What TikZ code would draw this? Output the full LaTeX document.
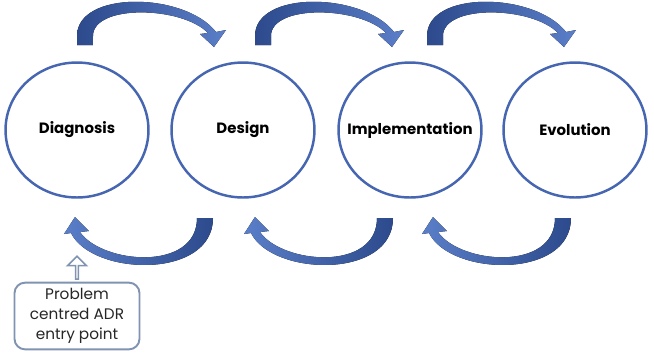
\documentclass[tikz,border=0pt]{standalone}
\usepackage{fontspec}
\setmainfont{Poppins}
\usetikzlibrary{shapes.geometric,shapes.arrows,arrows.meta,positioning}

\definecolor{ringblue}{RGB}{70,102,178}
\definecolor{arrowdark}{RGB}{44,74,140}
\definecolor{arrowlight}{RGB}{90,126,200}
\definecolor{boxgrey}{RGB}{128,148,178}
\definecolor{textgrey}{RGB}{38,38,38}

\tikzset{
  phase/.style={ellipse, draw=ringblue, line width=1.4pt, fill=white,
    minimum width=2.86cm, minimum height=2.7cm, inner sep=0pt,
    label={[font=\bfseries\fontsize{8.5}{10}\selectfont]center:#1}},
  fwdarrow/.style={left color=arrowdark, right color=arrowlight, draw=none},
  backarrow/.style={left color=arrowlight, right color=arrowdark, draw=none},
  entrybox/.style={draw=boxgrey, line width=1.1pt, rounded corners=6pt,
    minimum width=2.5cm, minimum height=1.22cm, align=center, text=textgrey,
    font=\fontsize{8.7}{11.3}\selectfont},
  entryarrow/.style={single arrow, draw=boxgrey, line width=0.9pt, fill=white,
    shape border rotate=90, minimum height=0.46cm, minimum width=0.38cm,
    single arrow head extend=0.1cm, single arrow head indent=0cm, inner sep=0pt}
}

\begin{document}
\begin{tikzpicture}[x=0.02cm,y=-0.02cm]
  \useasboundingbox (0,0) rectangle (654,360);

  % phases
  \node[phase=Diagnosis] (diag) at (77,130) {};
  \node[phase=Design] (design) at (243,130) {};
  \node[phase=Implementation] (impl) at (410,130) {};
  \node[phase=Evolution] (evol) at (575,130) {};

  % forward arrows over the top
  \foreach \dx in {0,178,350}
    \fill[fwdarrow, shift={(\dx,0)}]
      (77,45) -- (77,36) .. controls (77,-10) and (185,-8) .. (216,32)
      -- (226,30) -- (214,47) -- (200,34) -- (208,33)
      .. controls (182,6) and (93,4) .. (93,36) -- (93,45) -- cycle;

  % backward arrows underneath
  \foreach \dx in {0,180,358}
    \fill[backarrow, shift={(\dx,0)}]
      (213,218) .. controls (213,280) and (92,276) .. (71,233)
      -- (64,234) -- (75,217) -- (89,231) -- (80,232)
      .. controls (102,264) and (197,272) .. (197,218) -- cycle;

  % entry point
  \node[entrybox] (entry) at (77,316) {Problem\\centred ADR\\entry point};
  \node[entryarrow, above=1pt of entry.north, anchor=south] (entryup) {};
\end{tikzpicture}
\end{document}
